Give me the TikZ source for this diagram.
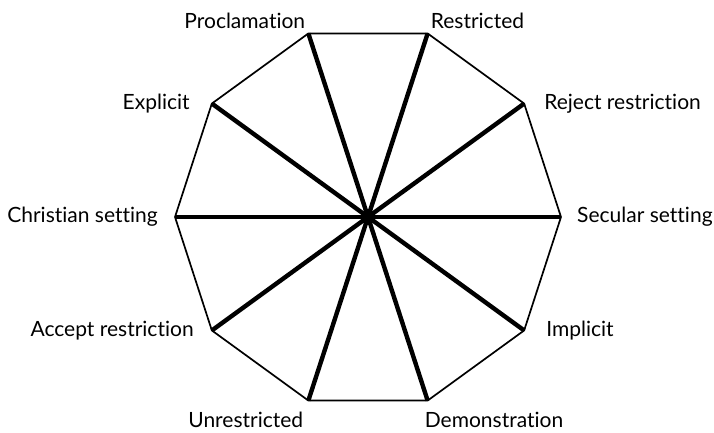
\documentclass[tikz,border=0pt]{standalone}
\usepackage{fontspec}
\setmainfont[Ligatures=NoCommon]{Lato}
\usetikzlibrary{positioning}

\tikzset{
  rim/.style={line width=1.7pt, line join=miter},
  spoke/.style={line width=4.4pt},
  tag/.style={inner sep=0pt, font=\fontsize{21}{24}\selectfont}
}

\begin{document}
\begin{tikzpicture}[x=1pt, y=1pt]

% Frame
\useasboundingbox (-368,-215) rectangle (346,217);

% Centre and corners
\coordinate (o) at (0,0);
\foreach \k in {0,...,9}{
  \coordinate (v\k) at (\k*36:193);
}

% Spokes
\foreach \k in {0,...,9}{
  \draw[spoke] (o) -- (v\k);
}

% Rim
\draw[rim] (v0) -- (v1) -- (v2) -- (v3) -- (v4) -- (v5) -- (v6) -- (v7) -- (v8) -- (v9) -- cycle;

% Labels
\node[tag, right=16pt of v0] (secular) {Secular setting};
\node[tag, right=20pt of v1] (reject) {Reject restriction};
\node[tag, above right=5pt and 3pt of v2.center, anchor=south west] (restricted) {Restricted};
\node[tag, above left=5pt and 3pt of v3.center, anchor=south east] (proclamation) {Proclamation};
\node[tag, left=22pt of v4] (explicit) {Explicit};
\node[tag, left=17pt of v5] (christian) {Christian setting};
\node[tag, left=18pt of v6] (accept) {Accept restriction};
\node[tag, below left=11pt and 5pt of v7.center, anchor=north east] (unrestricted) {Unrestricted};
\node[tag, below right=11pt and -3pt of v8.center, anchor=north west] (demonstration) {Demonstration};
\node[tag, right=22pt of v9] (implicit) {Implicit};

\end{tikzpicture}
\end{document}
